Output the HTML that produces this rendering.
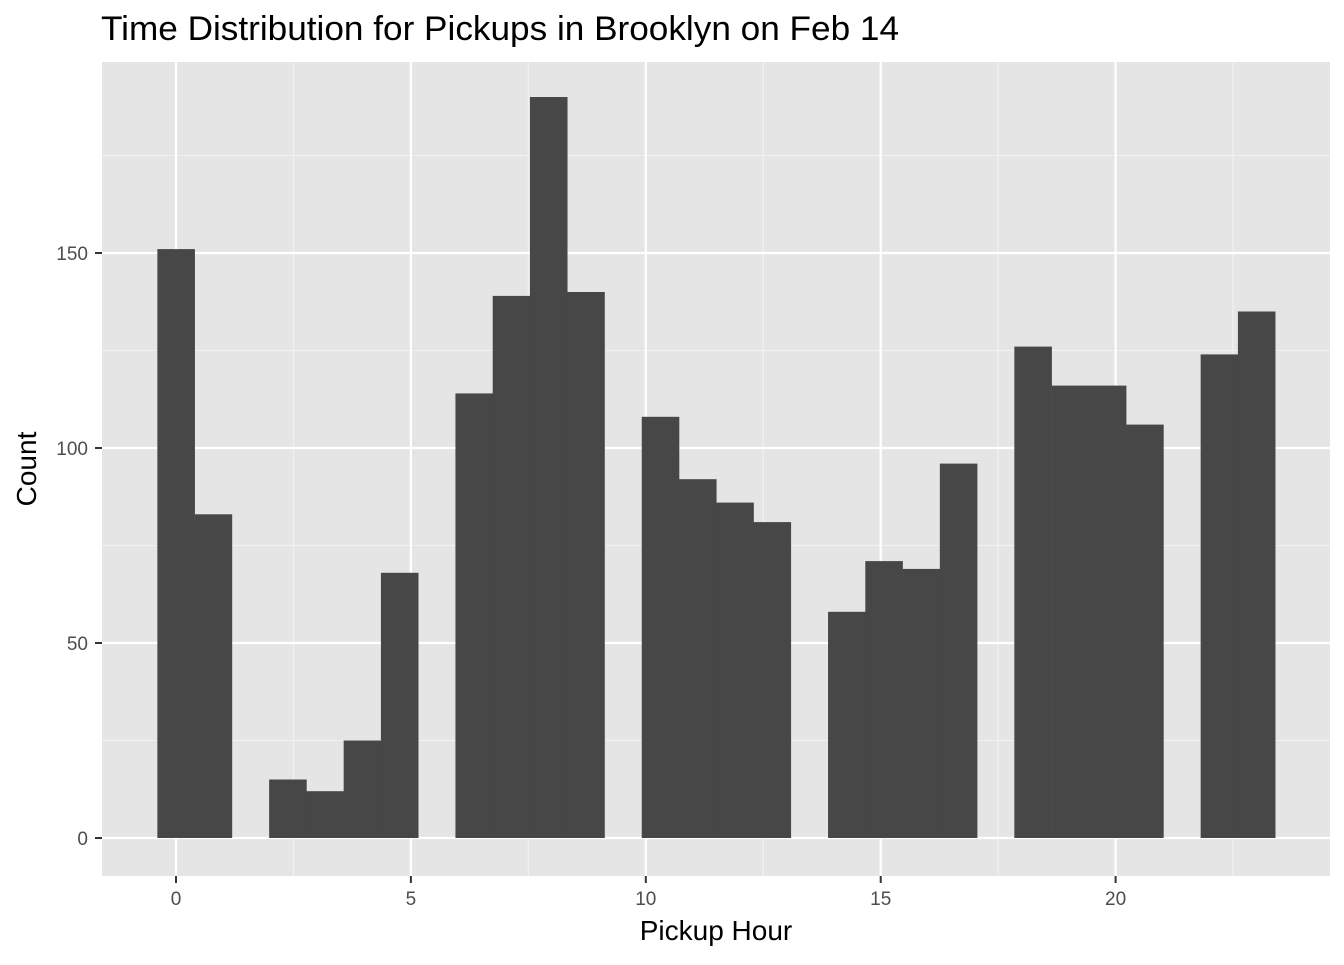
<!DOCTYPE html>
<html><head><meta charset="utf-8"><style>
body{margin:0;background:#fff;font-family:"Liberation Sans",Arial,sans-serif}
</style></head><body>
<svg id="chart" width="1344" height="960" xmlns="http://www.w3.org/2000/svg" font-family="Liberation Sans, Arial, sans-serif">
<text x="101" y="40" font-size="34" textLength="798" lengthAdjust="spacingAndGlyphs" fill="#000">Time Distribution for Pickups in Brooklyn on Feb 14</text>
<rect x="102" y="62" width="1228" height="814" fill="#e5e5e5"/>
<g id="grid"></g><g id="bars"></g><g id="axes"></g>
<text x="716" y="940" font-size="28" text-anchor="middle" fill="#000">Pickup Hour</text>
<text transform="translate(36,469) rotate(-90)" font-size="28" text-anchor="middle" fill="#000">Count</text>
</svg>
<script>
const binStart=-0.3966;
const binWidth=23/29;
const counts=[151,83,0,15,12,25,68,0,114,139,190,140,0,108,92,86,81,0,58,71,69,96,0,126,116,116,106,0,124,135];
const xTicks=[0,5,10,15,20];
const yTicks=[0,50,100,150];
const xMinor=[2.5,7.5,12.5,17.5,22.5];
const yMinor=[25,75,125,175];
const X=v=>176+v*46.98;
const Y=v=>838-v*3.9;
const NS="http://www.w3.org/2000/svg";
function mk(tag,attrs,parent){const e=document.createElementNS(NS,tag);for(const k in attrs)e.setAttribute(k,attrs[k]);parent.appendChild(e);return e;}
const grid=document.getElementById('grid'),bars=document.getElementById('bars'),axes=document.getElementById('axes');
xMinor.forEach(v=>{const l=mk('line',{x1:X(v),x2:X(v),y1:62,y2:876,stroke:'#f2f2f2','stroke-width':1.1},grid);});
yMinor.forEach(v=>{const l=mk('line',{x1:102,x2:1330,y1:Y(v),y2:Y(v),stroke:'#f2f2f2','stroke-width':1.1},grid);});
xTicks.forEach(v=>{const l=mk('line',{x1:X(v),x2:X(v),y1:62,y2:876,stroke:'#fff','stroke-width':2.2},grid);
const t=mk('line',{x1:X(v),x2:X(v),y1:876,y2:883,stroke:'#333','stroke-width':2},axes);
const tx=mk('text',{x:X(v),y:905,'font-size':19,'text-anchor':'middle',fill:'#4d4d4d'},axes);tx.textContent=v;});
yTicks.forEach(v=>{const l=mk('line',{x1:102,x2:1330,y1:Y(v),y2:Y(v),stroke:'#fff','stroke-width':2.2},grid);
const t=mk('line',{x1:95,x2:102,y1:Y(v),y2:Y(v),stroke:'#333','stroke-width':2},axes);
const tx=mk('text',{x:88,y:Y(v)+7,'font-size':19,'text-anchor':'end',fill:'#4d4d4d'},axes);tx.textContent=v;});
counts.forEach((c,i)=>{if(c<=0)return;const x0=X(binStart+i*binWidth),x1=X(binStart+(i+1)*binWidth);
const r=mk('rect',{x:x0,y:Y(c),width:x1-x0+0.3,height:Y(0)-Y(c),fill:'#474747'},bars);});
</script>
</body></html>
